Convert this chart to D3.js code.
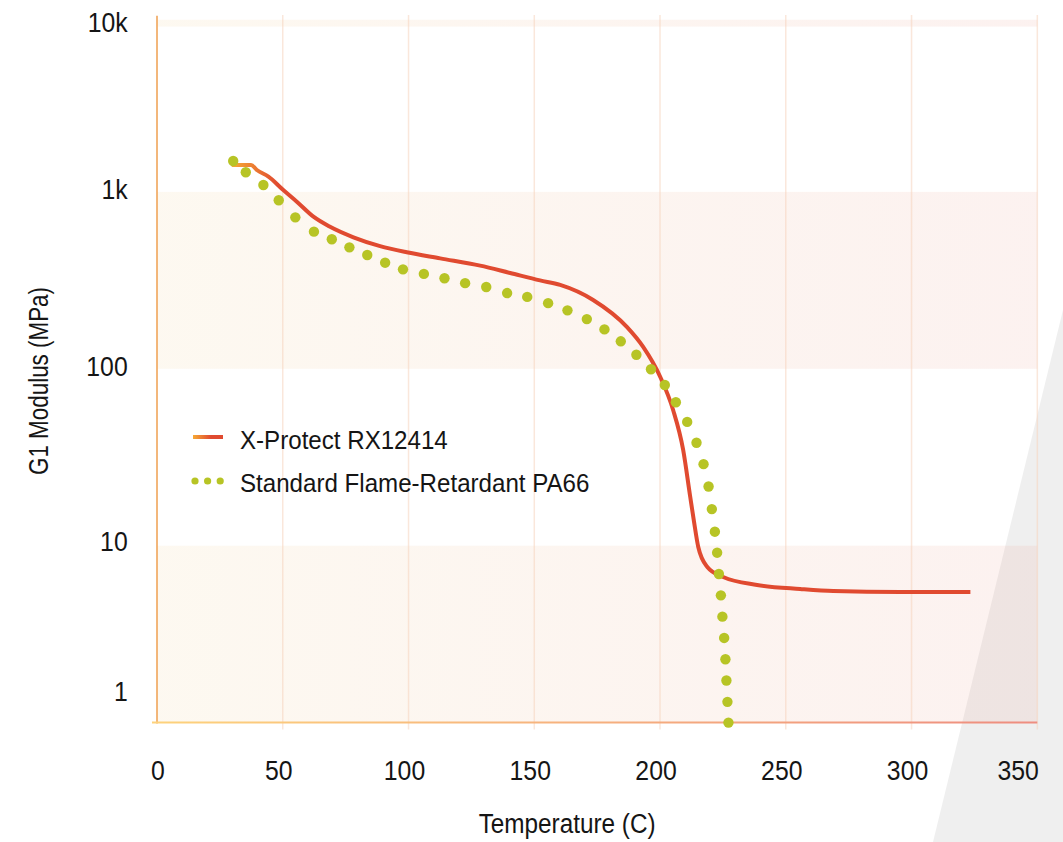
<!DOCTYPE html>
<html>
<head>
<meta charset="utf-8">
<script src="https://cdn.jsdelivr.net/npm/d3@7"></script>
<style>
  html, body { margin: 0; padding: 0; background: #fff; }
  svg { display: block; font-family: "Liberation Sans", Arial, sans-serif; }
  .tick-label { font-size: 28.5px; fill: #151515; }
  .title { font-size: 27px; fill: #151515; }
  .legend-label { font-size: 26.5px; fill: #151515; }
</style>
</head>
<body>
<div id="chart"></div>
<script>
// X-Protect RX12414 (solid line)
const rxTemp = [29.7, 37.4, 39.7, 44.3, 50.2, 55.6, 62.2, 68.8, 78.1, 88.7, 99.3, 112.6, 128.5, 140.4, 152.3, 160.3, 173.4, 186.9, 193.3, 200.1, 205.2, 209.2, 212.0, 213.4, 215.2, 218.8, 225.1, 238.6, 255.7, 268.9, 295.5, 323.4];
const rxModulus = [1420, 1420, 1330, 1219, 1025, 880, 724, 635, 554, 494, 456, 421, 383, 348, 316, 298, 245, 172, 133, 89.9, 58.5, 34.8, 18.9, 14.0, 9.83, 7.58, 6.65, 6.0, 5.69, 5.54, 5.48, 5.48];

// Standard Flame-Retardant PA66 (dotted)
const paTemp = [30.3, 35.3, 42.3, 48.4, 55.0, 62.4, 69.5, 76.5, 83.6, 90.7, 97.8, 106.1, 114.3, 122.5, 130.9, 139.2, 147.2, 155.5, 163.2, 170.9, 177.9, 184.4, 190.6, 196.4, 201.9, 206.3, 210.8, 214.5, 217.3, 219.3, 220.6, 221.8, 222.7, 223.4, 224.2, 224.8, 225.5, 226.0, 226.4, 226.8, 227.2];
const paModulus = [1496, 1291, 1094, 897, 718, 596, 540, 486, 440, 398, 365, 344, 325, 305, 290, 268, 255, 235, 214, 191, 167, 143, 120, 99.4, 81.0, 64.7, 50.1, 38.2, 28.9, 21.6, 16.1, 12.0, 9.13, 6.92, 5.24, 3.97, 3.01, 2.28, 1.73, 1.31, 1.0];

const xTicks = [0, 50, 100, 150, 200, 250, 300, 350];
const yTicks = [1, 10, 100, 1000, 10000];
const yTickLabels = ["1", "10", "100", "1k", "10k"];
const shadedBands = [[1, 10], [100, 1000], [8600, 9400]];

const seriesNames = ["X-Protect RX12414", "Standard Flame-Retardant PA66"];

const width = 1063, height = 842;
const margin = { top: 15, right: 25.7, bottom: 119.4, left: 157 };
const innerWidth = width - margin.left - margin.right;
const innerHeight = height - margin.top - margin.bottom;

// squeeze text horizontally to mimic the condensed face of the original
function condense(sel, k) {
  sel.each(function () {
    const len = this.getComputedTextLength();
    d3.select(this).attr("textLength", len * k).attr("lengthAdjust", "spacingAndGlyphs");
  });
}

const svg = d3.select("#chart").append("svg")
  .attr("width", width).attr("height", height)
  .attr("viewBox", `0 0 ${width} ${height}`);

const x = d3.scaleLinear().domain([0, 350]).range([margin.left, margin.left + innerWidth]);
const y = d3.scaleLog().domain([1, 10000]).range([margin.top + innerHeight, margin.top]);

const defs = svg.append("defs");

const bandGrad = defs.append("linearGradient").attr("id", "bandGrad")
  .attr("gradientUnits", "userSpaceOnUse")
  .attr("x1", x(0)).attr("x2", x(350)).attr("y1", 0).attr("y2", 0);
bandGrad.append("stop").attr("offset", "0%").attr("stop-color", "#f3d59e").attr("stop-opacity", 0.15);
bandGrad.append("stop").attr("offset", "100%").attr("stop-color", "#e9998a").attr("stop-opacity", 0.13);

const baseGrad = defs.append("linearGradient").attr("id", "baseGrad")
  .attr("gradientUnits", "userSpaceOnUse")
  .attr("x1", x(0)).attr("x2", x(350)).attr("y1", 0).attr("y2", 0);
baseGrad.append("stop").attr("offset", "0%").attr("stop-color", "#fdd27c");
baseGrad.append("stop").attr("offset", "100%").attr("stop-color", "#ee8d80");

const lineGrad = defs.append("linearGradient").attr("id", "lineGrad")
  .attr("gradientUnits", "userSpaceOnUse")
  .attr("x1", x(30)).attr("x2", x(48)).attr("y1", 0).attr("y2", 0);
lineGrad.append("stop").attr("offset", "0%").attr("stop-color", "#f6a935");
lineGrad.append("stop").attr("offset", "100%").attr("stop-color", "#e04a30");

const legendGrad = defs.append("linearGradient").attr("id", "legendGrad")
  .attr("x1", "0%").attr("x2", "100%").attr("y1", "0%").attr("y2", "0%");
legendGrad.append("stop").attr("offset", "0%").attr("stop-color", "#f6a935");
legendGrad.append("stop").attr("offset", "60%").attr("stop-color", "#e04a30");

// grey decorative wedge, bottom right
svg.append("polygon")
  .attr("points", [[width, 310], [width, height], [933, height]].map((p) => p.join(",")).join(" "))
  .attr("fill", "#efefef");

// shaded decades
svg.append("g").selectAll("rect").data(shadedBands).enter().append("rect")
  .attr("x", x(0))
  .attr("width", x(350) - x(0))
  .attr("y", (d) => y(d[1]))
  .attr("height", (d) => y(d[0]) - y(d[1]))
  .attr("fill", "url(#bandGrad)");

// vertical grid
svg.append("g").selectAll("line").data(xTicks.slice(1)).enter().append("line")
  .attr("x1", (d) => x(d)).attr("x2", (d) => x(d))
  .attr("y1", margin.top).attr("y2", margin.top + innerHeight + 7)
  .attr("stroke", "#f5d3bd").attr("stroke-opacity", 0.55).attr("stroke-width", 1.5);

// axis lines
svg.append("line")
  .attr("x1", x(0)).attr("x2", x(0))
  .attr("y1", margin.top + 0.7).attr("y2", margin.top + innerHeight + 1)
  .attr("stroke", "#f0a55a").attr("stroke-width", 1.6);
svg.append("line")
  .attr("x1", x(0) - 5).attr("x2", x(350))
  .attr("y1", y(1)).attr("y2", y(1))
  .attr("stroke", "url(#baseGrad)").attr("stroke-width", 2);

// tick labels
const xAxis = svg.append("g")
  .attr("transform", `translate(0,${y(1)})`)
  .call(d3.axisBottom(x).tickValues(xTicks).tickSize(0).tickPadding(37).tickFormat(d3.format("d")));
xAxis.select(".domain").remove();
xAxis.selectAll("text").attr("class", "tick-label").attr("font-family", null).attr("font-size", null).attr("fill", null)
  .attr("text-anchor", (d) => (d === 350 ? "end" : "middle"))
  .attr("dx", (d) => (d === 0 ? 0.5 : d === 350 ? 1 : -4.5));

const yAxis = svg.append("g")
  .attr("transform", `translate(${x(0)},0)`)
  .call(d3.axisLeft(y).tickValues(yTicks).tickSize(0).tickPadding(29.3)
    .tickFormat((d, i) => yTickLabels[i]));
yAxis.select(".domain").remove();
yAxis.selectAll("text").attr("class", "tick-label").attr("font-family", null).attr("font-size", null).attr("fill", null)
  .attr("dy", null)
  .attr("y", (d) => {
    // labels sit just above their decade line; first/last kept inside the plot
    if (d === 10000) return 16.5;
    if (d === 1) return -22.6;
    return d === 10 ? 4.5 : 6.5;
  });

condense(svg.selectAll(".tick-label"), 0.87);

// axis titles
const xTitle = svg.append("text").attr("class", "title")
  .attr("x", margin.left + innerWidth / 2 - 30)
  .attr("y", height - 9)
  .attr("text-anchor", "middle")
  .text("Temperature (C)");

const yTitle = svg.append("text").attr("class", "title")
  .attr("text-anchor", "middle")
  .attr("transform", `translate(47.5,${margin.top + 366}) rotate(-90)`)
  .text("G1 Modulus (MPa)");

condense(xTitle, 0.9);
condense(yTitle, 0.83);

// series
const rxData = rxTemp.map((t, i) => ({ t, v: rxModulus[i] }));
const paData = paTemp.map((t, i) => ({ t, v: paModulus[i] }));

const line = d3.line().x((d) => x(d.t)).y((d) => y(d.v)).curve(d3.curveMonotoneX);

svg.append("path").datum(rxData)
  .attr("fill", "none")
  .attr("stroke", "url(#lineGrad)")
  .attr("stroke-width", 4)
  .attr("stroke-linejoin", "round")
  .attr("d", line);

svg.append("g").selectAll("circle").data(paData).enter().append("circle")
  .attr("cx", (d) => x(d.t))
  .attr("cy", (d) => y(d.v))
  .attr("r", 5.2)
  .attr("fill", "#b7c425");

// legend
const legend = svg.append("g").attr("transform", "translate(193,437)");
legend.append("rect").attr("x", 0).attr("y", -2).attr("width", 30).attr("height", 4).attr("fill", "url(#legendGrad)");
legend.append("text").attr("class", "legend-label").attr("x", 47).attr("y", 12).text(seriesNames[0]);
legend.append("g").selectAll("circle").data([0, 1, 2]).enter().append("circle")
  .attr("cx", (d) => 2 + d * 12.6).attr("cy", 44).attr("r", 3.6).attr("fill", "#b7c425");
legend.append("text").attr("class", "legend-label").attr("x", 47).attr("y", 55).text(seriesNames[1]);
condense(legend.selectAll("text"), 0.91);
</script>
</body>
</html>
